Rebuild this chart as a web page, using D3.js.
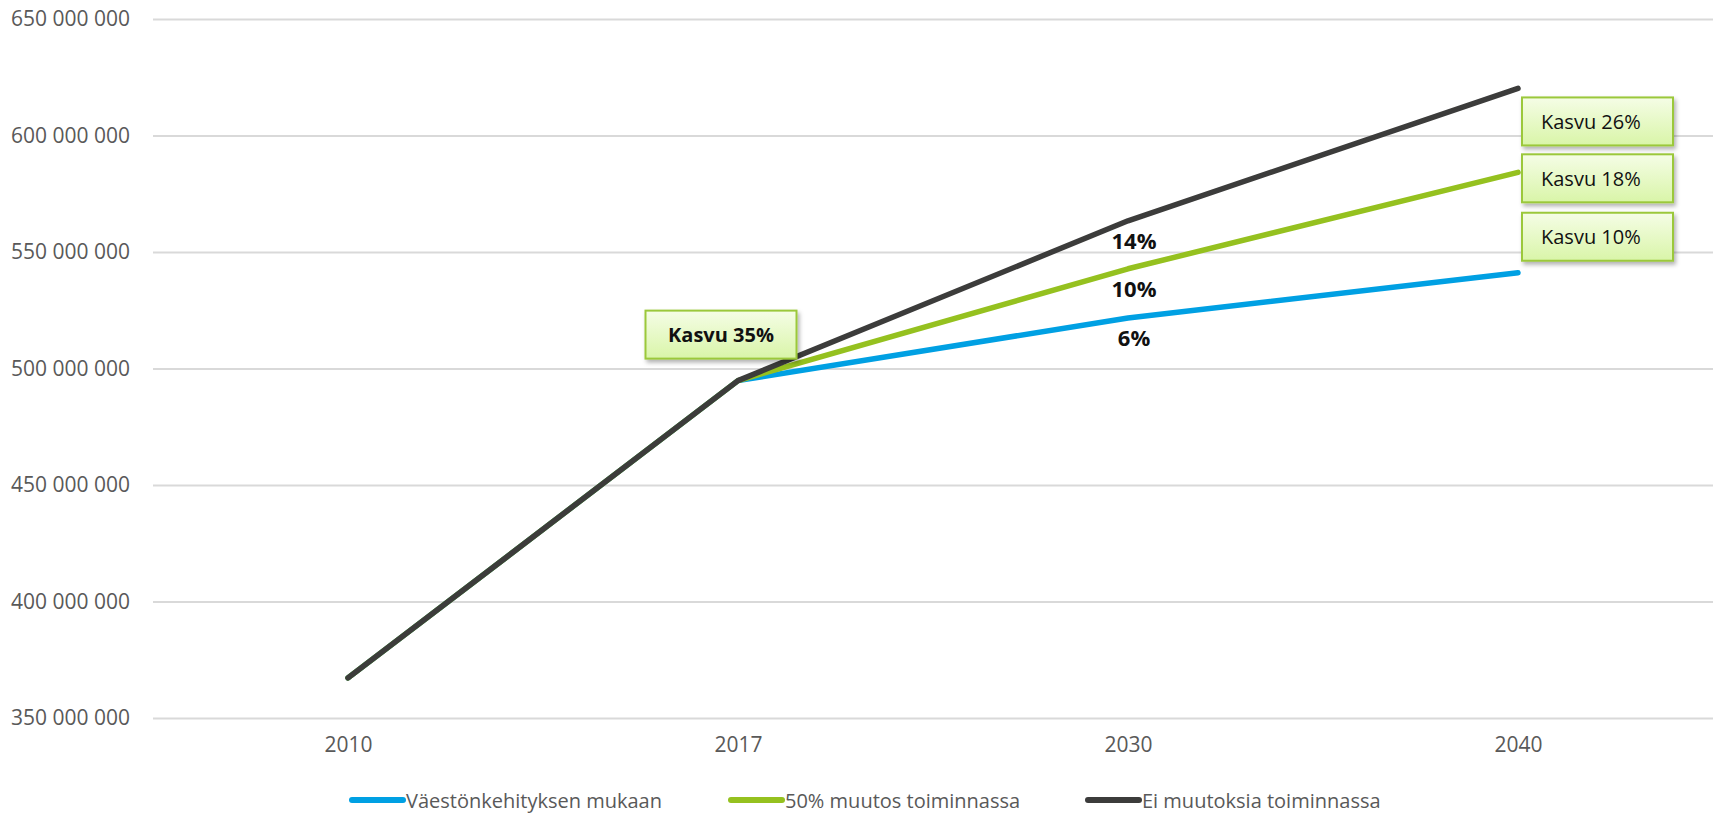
<!DOCTYPE html>
<html>
<head>
<meta charset="utf-8">
<script src="https://cdn.jsdelivr.net/npm/d3@7"></script>
<style>
  body { margin: 0; background: #fff; }
  svg { display: block; font-family: "Open Sans", sans-serif; }
</style>
</head>
<body>
<svg id="chart" width="1713" height="813"></svg>
<script>
// data
var years = ["2010", "2017", "2030", "2040"];
var seriesNames = ["Väestönkehityksen mukaan", "50% muutos toiminnassa", "Ei muutoksia toiminnassa"];
var seriesColors = ["#00a0e3", "#95c11f", "#3c3c3b"];
var vaesto = [367200000, 494800000, 521700000, 541100000];
var muutos50 = [367200000, 494800000, 542800000, 584200000];
var eiMuutoksia = [367200000, 494800000, 563400000, 620200000];
var yTicks = [350000000, 400000000, 450000000, 500000000, 550000000, 600000000, 650000000];
var midLabels = ["6%", "10%", "14%"];
var endLabels = ["Kasvu 10%", "Kasvu 18%", "Kasvu 26%"];
var startLabel = "Kasvu 35%";

var allSeries = [vaesto, muutos50, eiMuutoksia];

var svg = d3.select("#chart");
// plot area (note: "top" is a reserved window prop, so prefix these)
var plotLeft = 153, plotRight = 1713, plotTop = 19, plotBottom = 718;

var x = d3.scalePoint().domain(years).range([plotLeft, plotRight]).padding(0.5);
var y = d3.scaleLinear().domain([350000000, 650000000]).range([plotBottom, plotTop]);

var fmt = function(v){
  return d3.format(",")(v).replace(/,/g, " ");
};

// shadow + gradient for the callout boxes
var defs = svg.append("defs");
var grad = defs.append("linearGradient")
  .attr("id", "boxGrad")
  .attr("x1", 0).attr("y1", 0).attr("x2", 0).attr("y2", 1);
grad.append("stop").attr("offset", "0%").attr("stop-color", "#f5fde6");
grad.append("stop").attr("offset", "100%").attr("stop-color", "#d9f5a8");
var shadow = defs.append("filter").attr("id", "shadow")
  .attr("x", "-20%").attr("y", "-20%").attr("width", "150%").attr("height", "160%");
shadow.append("feDropShadow")
  .attr("dx", 2).attr("dy", 3).attr("stdDeviation", 2)
  .attr("flood-color", "#000").attr("flood-opacity", 0.3);

// gridlines
var yAxis = d3.axisLeft(y).tickValues(yTicks).tickSize(-(plotRight - plotLeft)).tickFormat(fmt).tickPadding(23);
var gy = svg.append("g").attr("transform", "translate(" + plotLeft + ",0)").call(yAxis);
gy.select(".domain").remove();
gy.selectAll(".tick line").attr("stroke", "#d9d9d9").attr("stroke-width", 2);
gy.selectAll(".tick text")
  .attr("fill", "#595959")
  .style("font-size", "21px")
  .style("font-family", "'Open Sans', sans-serif");

// x axis labels
var xAxis = d3.axisBottom(x).tickSize(0).tickPadding(19);
var gx = svg.append("g").attr("transform", "translate(0," + plotBottom + ")").call(xAxis);
gx.select(".domain").remove();
gx.selectAll(".tick text")
  .attr("fill", "#595959")
  .style("font-size", "21px")
  .style("font-family", "'Open Sans', sans-serif");

// lines
var line = d3.line()
  .x(function(d, i){ return x(years[i]); })
  .y(function(d){ return y(d); });

svg.selectAll(".series")
  .data(allSeries)
  .enter()
  .append("path")
  .attr("class", "series")
  .attr("d", line)
  .attr("fill", "none")
  .attr("stroke", function(d, i){ return seriesColors[i]; })
  .attr("stroke-width", 5.5)
  .attr("stroke-linecap", "round")
  .attr("stroke-linejoin", "round");

// 2030 labels under the points
svg.selectAll(".midLabel")
  .data(allSeries)
  .enter()
  .append("text")
  .attr("class", "midLabel")
  .attr("x", function(d){ return x("2030") + 6; })
  .attr("y", function(d){ return y(d[2]) + 19; })
  .attr("text-anchor", "middle")
  .attr("dominant-baseline", "central")
  .attr("font-weight", "bold")
  .attr("font-size", "22px")
  .attr("fill", "#111")
  .text(function(d, i){ return midLabels[i]; });

// callout boxes
var drawBox = function(cx, cy, label, bold, anchor){
  var w = 151, h = 48;
  var g = svg.append("g");
  var bx = anchor == "left" ? cx : cx - w / 2;
  g.append("rect")
    .attr("x", bx).attr("y", cy - h / 2)
    .attr("width", w).attr("height", h)
    .attr("fill", "url(#boxGrad)")
    .attr("stroke", "#9bc83a")
    .attr("stroke-width", 2)
    .attr("filter", "url(#shadow)");
  g.append("text")
    .attr("x", anchor == "left" ? bx + 19 : cx)
    .attr("y", cy)
    .attr("text-anchor", anchor == "left" ? "start" : "middle")
    .attr("dominant-baseline", "central")
    .attr("font-size", "20px")
    .attr("font-weight", bold ? "bold" : "normal")
    .attr("fill", "#111")
    .text(label);
};

drawBox(x("2017") - 17, y(eiMuutoksia[1]) - 46, startLabel, true, "middle");
var boxOffsets = [-36, 6, 33];
allSeries.forEach(function(d, i){
  drawBox(x("2040") + 4, y(d[3]) + boxOffsets[i], endLabels[i], false, "left");
});

// legend
var legendX = [350, 729, 1086];
var legend = svg.selectAll(".legend")
  .data(seriesNames)
  .enter()
  .append("g")
  .attr("class", "legend")
  .attr("transform", function(d, i){ return "translate(" + legendX[i] + ",800)"; });
legend.append("line")
  .attr("x1", 2).attr("x2", 53)
  .attr("stroke", function(d, i){ return seriesColors[i]; })
  .attr("stroke-width", 6)
  .attr("stroke-linecap", "round");
legend.append("text")
  .attr("x", 56)
  .attr("dominant-baseline", "central")
  .attr("font-size", "20px")
  .attr("fill", "#595959")
  .text(function(d){ return d; });
</script>
</body>
</html>
